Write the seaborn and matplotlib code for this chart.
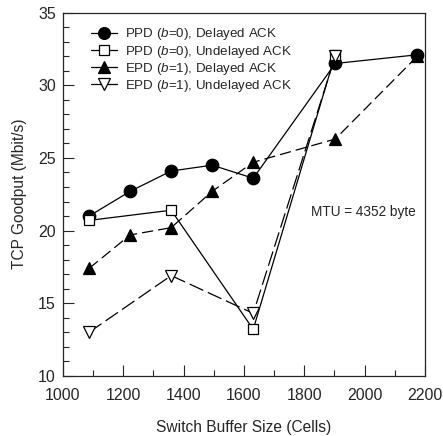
import matplotlib
matplotlib.use('Agg')
import matplotlib.pyplot as plt
from matplotlib.lines import Line2D
from matplotlib.ticker import MultipleLocator
import seaborn as sns

buf_all = [1087, 1223, 1359, 1495, 1631, 1903, 2175]
ppd_delayed = [21.0, 22.7, 24.1, 24.5, 23.6, 31.5, 32.1]
epd_delayed = [17.4, 19.7, 20.2, 22.7, 24.7, 26.3, 32.0]

buf_sparse = [1087, 1359, 1631, 1903]
ppd_undelayed = [20.7, 21.4, 13.2, 32.1]
epd_undelayed = [13.0, 16.9, 14.3, 32.0]

labels = [
    'PPD ($b$=0), Delayed ACK',
    'PPD ($b$=0), Undelayed ACK',
    'EPD ($b$=1), Delayed ACK',
    'EPD ($b$=1), Undelayed ACK',
]


def main():
    sns.set_style('ticks')
    plt.rcParams['font.family'] = ['Liberation Sans', 'DejaVu Sans']
    plt.rcParams['mathtext.fontset'] = 'custom'
    plt.rcParams['mathtext.it'] = 'Liberation Sans:italic'
    plt.rcParams['mathtext.rm'] = 'Liberation Sans'

    fig = plt.figure(figsize=(4.43, 4.36), dpi=100)
    ax = fig.add_axes([0.142, 0.138, 0.817, 0.833])

    series = [
        (buf_all, ppd_delayed, dict(marker='o', ms=9, mfc='black', ls='-', lw=0.9)),
        (buf_sparse, ppd_undelayed, dict(marker='s', ms=7, mfc='white', ls='-', lw=0.9)),
        (buf_all, epd_delayed, dict(marker='^', ms=9, mfc='black', ls=(0, (9, 4)), lw=0.9)),
        (buf_sparse, epd_undelayed, dict(marker='v', ms=9, mfc='white', ls=(0, (12, 4)), lw=0.9)),
    ]
    order = [2, 3, 1, 0]
    for i in order:
        x, y, kw = series[i]
        sns.lineplot(x=x, y=y, ax=ax, color='black', mec='black', mew=0.9,
                     estimator=None, sort=False, zorder=3 + i, **kw)

    handles = []
    for x, y, kw in series:
        handles.append(Line2D([], [], color='black', marker=kw['marker'], ms=kw['ms'] - 0.5,
                              mfc=kw['mfc'], mec='black', mew=0.9, ls='-', lw=0.9))
    ax.legend(handles, labels, loc='upper left', bbox_to_anchor=(0.078, 0.962),
              borderaxespad=0, borderpad=0,
              frameon=False, fontsize=9.6, handlelength=1.95, handletextpad=0.6,
              labelspacing=0.08)

    ax.text(1822, 21.3, 'MTU = 4352 byte', fontsize=9.8, va='center', ha='left')

    ax.set_xlim(1000, 2200)
    ax.set_ylim(10, 35)
    ax.xaxis.set_major_locator(MultipleLocator(200))
    ax.xaxis.set_minor_locator(MultipleLocator(100))
    ax.yaxis.set_major_locator(MultipleLocator(5))
    ax.yaxis.set_minor_locator(MultipleLocator(1))
    ax.tick_params(which='both', direction='in', labelsize=11.5, width=0.8)
    ax.tick_params(which='major', length=8)
    ax.tick_params(which='minor', length=4)
    ax.tick_params(axis='x', pad=9)
    ax.tick_params(axis='y', pad=5)
    for s in ax.spines.values():
        s.set_linewidth(0.9)
        s.set_visible(True)

    ax.set_xlabel('Switch Buffer Size (Cells)', fontsize=11.2, labelpad=12)
    ax.set_ylabel('TCP Goodput (Mbit/s)', fontsize=11.2, labelpad=8)

    fig.savefig('out.png', dpi=100)


if __name__ == '__main__':
    main()
